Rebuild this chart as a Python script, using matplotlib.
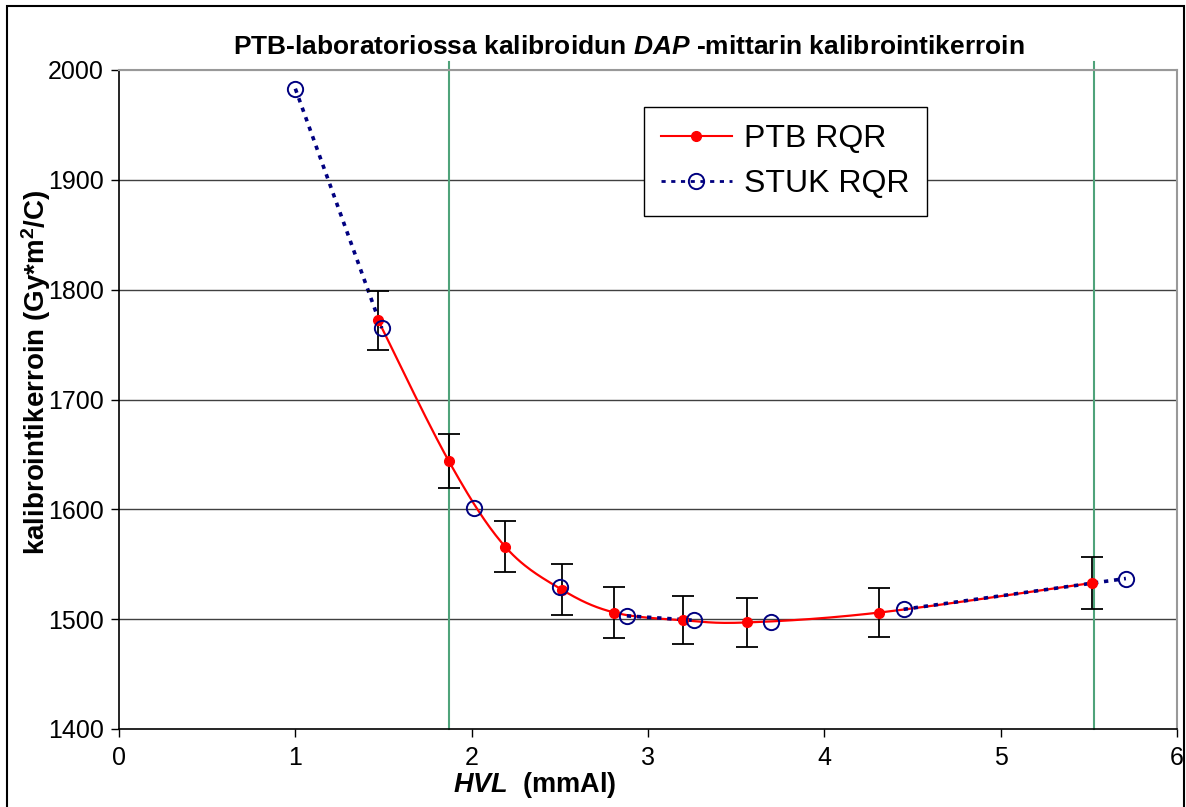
import numpy as np
import matplotlib.pyplot as plt
from matplotlib.lines import Line2D
from matplotlib.patches import Rectangle

plt.rcParams['font.family'] = ['Liberation Sans', 'DejaVu Sans']
plt.rcParams['mathtext.fontset'] = 'custom'
plt.rcParams['mathtext.rm'] = 'Liberation Sans:bold'
plt.rcParams['mathtext.it'] = 'Liberation Sans:italic:bold'
plt.rcParams['mathtext.bf'] = 'Liberation Sans:bold'

# PTB calibration (HVL mmAl, factor Gy*m2/C, error bar half-height)
ptb_hvl = [1.47, 1.87, 2.19, 2.51, 2.81, 3.20, 3.56, 4.31, 5.52]
ptb_kerroin = [1772, 1644, 1566, 1527, 1506, 1499, 1497, 1506, 1533]
ptb_virhe = [27, 25, 23, 23, 23, 22, 22, 22, 24]

# STUK calibration
stuk_hvl = [1.00, 1.49, 2.015, 2.50, 2.88, 3.26, 3.70, 4.45, 5.71]
stuk_kerroin = [1983, 1765, 1601, 1529, 1503, 1499, 1497, 1509, 1537]
# STUK points joined by the dashed line (index pairs)
stuk_yhdistetty = [(0, 1), (4, 5), (7, 8)]

# green vertical limits
rajat = [1.873, 5.528]

y_ticks = [1400, 1500, 1600, 1700, 1800, 1900, 2000]
x_ticks = [0, 1, 2, 3, 4, 5, 6]


def excel_smooth(x, y, n=30):
    # bezier smoothing like the spreadsheet "smoothed line"
    p = np.column_stack([x, y]).astype(float)
    out = [p[0]]
    for i in range(len(p) - 1):
        p0 = p[i - 1] if i > 0 else p[i]
        p3 = p[i + 2] if i + 2 < len(p) else p[i + 1]
        c1 = p[i] + (p[i + 1] - p0) / 6
        c2 = p[i + 1] - (p3 - p[i]) / 6
        t = np.linspace(0, 1, n)[1:, None]
        seg = ((1 - t) ** 3 * p[i] + 3 * (1 - t) ** 2 * t * c1
               + 3 * (1 - t) * t ** 2 * c2 + t ** 3 * p[i + 1])
        out.extend(seg)
    out = np.array(out)
    return out[:, 0], out[:, 1]


fig = plt.figure(figsize=(11.86, 8.07), dpi=100)
ax = fig.add_axes([119 / 1186, 1 - 729 / 807, 1058 / 1186, 659 / 807])

for yv in y_ticks[1:-1]:
    ax.axhline(yv, color='#404040', lw=1, zorder=1)
ax.axhline(2000, color='#999999', lw=1.5, zorder=1)

for r in rajat:
    ax.plot([r, r], [1400, 2007], color='#4FA37A', lw=1.5, clip_on=False, zorder=2)

sx, sy = excel_smooth(ptb_hvl, ptb_kerroin)
ax.plot(sx, sy, color='#FF0000', lw=1.6, zorder=3)

for a, b in stuk_yhdistetty:
    ax.plot(stuk_hvl[a:b + 1], stuk_kerroin[a:b + 1], color='#000080', lw=2.6,
            dashes=(1.2, 1.6), zorder=4)

ax.errorbar(ptb_hvl, ptb_kerroin, yerr=ptb_virhe, fmt='none', ecolor='black',
            elinewidth=1.3, capsize=8, capthick=1.3, zorder=5)
ax.plot(ptb_hvl, ptb_kerroin, 'o', color='#FF0000', ms=7, zorder=6)
ax.plot(stuk_hvl, stuk_kerroin, 'o', mfc='none', mec='#000080', mew=1.4, ms=11, zorder=7)

ax.set_xlim(0, 6)
ax.set_ylim(1400, 2000)
ax.set_xticks(x_ticks)
ax.set_yticks(y_ticks)
ax.tick_params(labelsize=18, length=6, width=1, color='black')
ax.tick_params(axis='x', pad=6)
ax.tick_params(axis='y', pad=5)
for s in ['top', 'right']:
    ax.spines[s].set_color('#999999')
    ax.spines[s].set_linewidth(1.5)
for s in ['left', 'bottom']:
    ax.spines[s].set_color('black')
    ax.spines[s].set_linewidth(1.2)

fig.text(535 / 1186, 1 - 785 / 807, '$HVL$  (mmAl)', ha='center', va='center',
         fontsize=19.5, fontweight='bold')
fig.text(36 / 1186, 1 - 372 / 807, 'kalibrointikerroin (Gy*m$^{\\mathrm{2}}$/C)',
         ha='center', va='center', rotation=90, fontsize=20, fontweight='bold')
fig.text(629 / 1186, 1 - 47 / 807,
         'PTB-laboratoriossa kalibroidun $DAP$ -mittarin kalibrointikerroin',
         ha='center', va='center', fontsize=19, fontweight='bold')

h_ptb = Line2D([], [], color='#FF0000', lw=1.5, marker='o', ms=7)
h_stuk = Line2D([], [], color='#000080', lw=2, dashes=(1.5, 2), marker='o',
                mfc='none', mec='#000080', mew=1.4, ms=11)
leg = ax.legend([h_ptb, h_stuk], ['PTB RQR', 'STUK RQR'], loc='upper left',
                bbox_to_anchor=(0.496, 0.944), fontsize=23, fancybox=False,
                framealpha=1, edgecolor='black', handlelength=2.2,
                borderpad=0.55, labelspacing=0.45, handletextpad=0.4,
                borderaxespad=0)
leg.get_frame().set_linewidth(1)

fig.patches.append(Rectangle((7 / 1186, -0.1), 1177 / 1186, 1.1 - 6 / 807,
                             transform=fig.transFigure, fill=False,
                             ec='black', lw=1.5))

fig.savefig('out.png', dpi=100)
